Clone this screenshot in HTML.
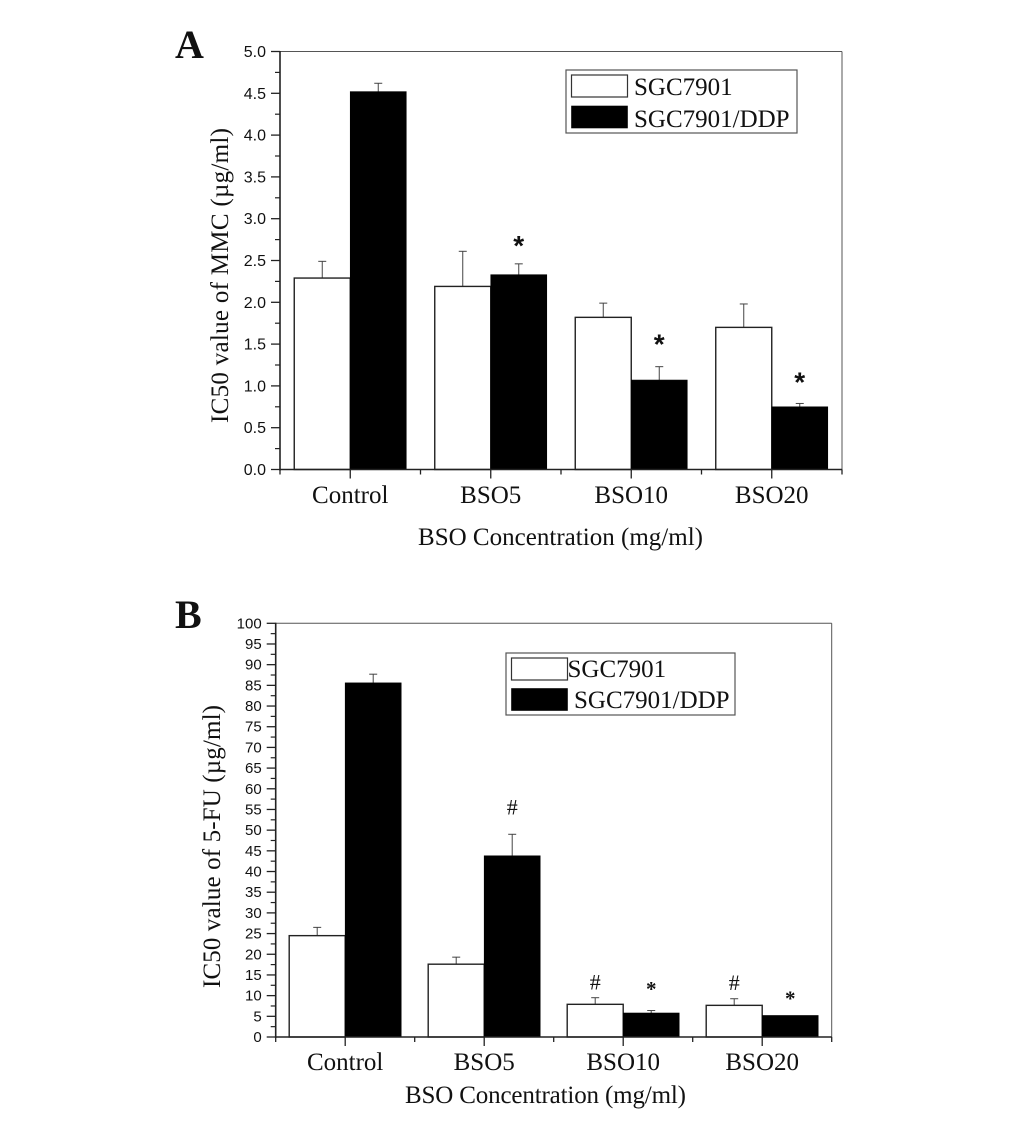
<!DOCTYPE html>
<html lang="en">
<head>
<meta charset="utf-8">
<title>IC50 values of MMC and 5-FU</title>
<style>
html,body{margin:0;padding:0;background:#fff;width:1033px;height:1121px;overflow:hidden}
svg{display:block}
text{fill:#111}
.serif{font-family:"Liberation Serif",serif}
.sans{font-family:"Liberation Sans",sans-serif}
</style>
</head>
<body>
<svg id="fig" xmlns="http://www.w3.org/2000/svg" width="1033" height="1121" viewBox="0 0 1033 1121">
<rect x="0" y="0" width="1033" height="1121" fill="#fff"/>
</svg>
<script>
// Shared categories and legend labels
const categories = ["Control", "BSO5", "BSO10", "BSO20"];
const seriesNames = ["SGC7901", "SGC7901/DDP"];

// Panel A: IC50 of MMC
const aYTicks = ["0.0","0.5","1.0","1.5","2.0","2.5","3.0","3.5","4.0","4.5","5.0"];
const aSgc = [2.29, 2.19, 1.82, 1.70];
const aSgcErr = [0.20, 0.42, 0.17, 0.28];
const aDdp = [4.52, 2.33, 1.07, 0.75];
const aDdpErr = [0.10, 0.13, 0.16, 0.04];
const aSgcMarks = ["", "", "", ""];
const aDdpMarks = ["", "*", "*", "*"];

// Panel B: IC50 of 5-FU
const bYTicks = ["0","5","10","15","20","25","30","35","40","45","50","55","60","65","70","75","80","85","90","95","100"];
const bSgc = [24.5, 17.6, 7.9, 7.65];
const bSgcErr = [2.0, 1.7, 1.6, 1.6];
const bDdp = [85.6, 43.8, 5.8, 5.2];
const bDdpErr = [2.1, 5.2, 0.6, 0];
const bSgcMarks = ["", "", "#", "#"];
const bDdpMarks = ["", "#", "*", "*"];

const NS = "http://www.w3.org/2000/svg";
const fig = document.getElementById("fig");

function el(tag, attrs, parent) {
  const e = document.createElementNS(NS, tag);
  for (const k in attrs) e.setAttribute(k, attrs[k]);
  (parent || fig).appendChild(e);
  return e;
}
function label(str, attrs, parent) {
  const t = el("text", attrs, parent);
  t.textContent = str;
  return t;
}

function drawPanel(p) {
  const g = el("g", {});
  
  

  const maxV = Number(p.yTicks[p.yTicks.length - 1]);
  const yAt = v => p.bottom - (v / maxV) * (p.bottom - p.top);
  const step = (p.right - p.left) / categories.length;
  const xAt = i => p.left + step * (i + 0.5);

  // Bars and error bars
  const drawSeries = (vals, errs, marks, side, name, gaps) => {
    vals.forEach((v, i) => {
      const cx = xAt(i);
      const x0 = side === 0 ? cx - p.barW : cx;
      const mid = x0 + p.barW / 2;
      const yTop = yAt(v);
      const yErr = yAt(v + errs[i]);
      if (errs[i] > 0) {
        const stem = el("line", {x1: mid, x2: mid, y1: yTop, y2: yErr, stroke: "#444", "stroke-width": 1}, g);
        
        
        const cap = el("line", {x1: mid - 4, x2: mid + 4, y1: yErr, y2: yErr, stroke: "#444", "stroke-width": 1}, g);
        
        
      }
      const bar = el("rect", {
        x: x0, y: yTop, width: p.barW, height: p.bottom - yTop,
        fill: side === 0 ? "#fff" : "#000",
        stroke: side === 0 ? "#222" : "#000",
        "stroke-width": side === 0 ? 1.4 : 0.6
      }, g);
      
      
      if (marks[i]) {
        const isStar = marks[i] === "*";
        const m = label(marks[i], {
          x: mid, y: yErr - gaps[i], "text-anchor": "middle",
          "font-size": isStar ? p.starSize : 22,
          "font-weight": isStar ? "bold" : "normal",
          class: isStar && p.starSans ? "sans" : "serif"
        }, g);
        
        
      }
    });
  };
  drawSeries(p.sgc, p.sgcErr, p.sgcMarks, 0, 'sgc7901', p.sgcGaps);
  drawSeries(p.ddp, p.ddpErr, p.ddpMarks, 1, 'sgc7901-ddp', p.ddpGaps);

  // Frame
  const frameTop = el("line", {x1: p.left, x2: p.right, y1: p.top, y2: p.top, stroke: "#555", "stroke-width": 1}, g);
  
  
  const frameRight = el("line", {x1: p.right, x2: p.right, y1: p.top, y2: p.bottom, stroke: "#555", "stroke-width": 1}, g);
  
  
  const yAxis = el("line", {x1: p.left, x2: p.left, y1: p.top - 0.5, y2: p.bottom + 1, stroke: "#222", "stroke-width": 1.6}, g);
  
  
  const xAxis = el("line", {x1: p.left, x2: p.right, y1: p.bottom, y2: p.bottom, stroke: "#222", "stroke-width": 1.6}, g);
  
  

  // Y ticks
  p.yTicks.forEach((t, i) => {
    const v = Number(t);
    const y = yAt(v);
    const major = el("line", {x1: p.left - 9, x2: p.left, y1: y, y2: y, stroke: "#222", "stroke-width": 1.3}, g);
    
    
    const tl = label(t, {x: p.left - 14, y: y + p.tickDy, "text-anchor": "end", "font-size": p.tickSize, class: "sans"}, g);
    
    
    if (i < p.yTicks.length - 1) {
      const yMid = yAt((v + Number(p.yTicks[i + 1])) / 2);
      const minor = el("line", {x1: p.left - 5, x2: p.left, y1: yMid, y2: yMid, stroke: "#222", "stroke-width": 1.2}, g);
      
      
    }
  });

  // X ticks
  for (let i = 0; i <= categories.length; i++) {
    const x = p.left + step * i;
    const minor = el("line", {x1: x, x2: x, y1: p.bottom, y2: p.bottom + 5, stroke: "#222", "stroke-width": 1.3}, g);
    
    
  }
  categories.forEach((c, i) => {
    const x = xAt(i);
    const major = el("line", {x1: x, x2: x, y1: p.bottom, y2: p.bottom + 9, stroke: "#222", "stroke-width": 1.3}, g);
    
    
    const tl = label(c, {x: x, y: p.catY, "text-anchor": "middle", "font-size": 25, class: "serif"}, g);
    
    
  });

  // Titles
  const xt = label("BSO Concentration (mg/ml)", {
    x: p.xTitleX, y: p.xTitleY, "font-size": 25, class: "serif",
    textLength: p.xTitleW, lengthAdjust: "spacing"
  }, g);
  
  
  const yt = label(p.yTitle, {
    x: 0, y: 0, "font-size": 25, class: "serif",
    textLength: p.yTitleW, lengthAdjust: "spacing",
    transform: "translate(" + p.yTitleX + " " + p.yTitleY + ") rotate(-90)"
  }, g);
  
  

  // Panel letter
  const letter = label(p.letter, {x: 175, y: p.letterY, "font-size": 40, "font-weight": "bold", class: "serif"}, g);
  
  

  // Legend
  const L = p.legend;
  const box = el("rect", {x: L.x, y: L.y, width: L.w, height: L.h, fill: "#fff", stroke: "#555", "stroke-width": 1.2}, g);
  
  
  const sw1 = el("rect", {x: L.swX, y: L.sw1Y, width: 56, height: 22, fill: "#fff", stroke: "#333", "stroke-width": 1.2}, g);
  
  
  const sw2 = el("rect", {x: L.swX, y: L.sw2Y, width: 56, height: 22, fill: "#000", stroke: "#000", "stroke-width": 0.6}, g);
  
  
  const lt1 = label(seriesNames[0], {x: L.t1X, y: L.t1Y, "font-size": 25, class: "serif"}, g);
  
  
  const lt2 = label(seriesNames[1], {x: L.t2X, y: L.t2Y, "font-size": 25, class: "serif"}, g);
  
  
}

drawPanel({
  id: "mmc", letter: "A", letterY: 58,
  left: 280, right: 842, top: 51.5, bottom: 469.5, barW: 56,
  yTicks: aYTicks, tickSize: 16, tickDy: 5.5,
  sgc: aSgc, sgcErr: aSgcErr, ddp: aDdp, ddpErr: aDdpErr,
  sgcMarks: aSgcMarks, ddpMarks: aDdpMarks,
  sgcGaps: [0, 0, 0, 0], ddpGaps: [0, 9, 13, 12],
  starSize: 28, starSans: true,
  catY: 503, xTitleX: 418, xTitleY: 545, xTitleW: 285,
  yTitle: "IC50 value of MMC (µg/ml)", yTitleX: 228, yTitleY: 423, yTitleW: 295,
  legend: {x: 566, y: 70, w: 231, h: 63, swX: 571.5, sw1Y: 75, sw2Y: 106, t1X: 634, t1Y: 95, t2X: 634, t2Y: 127}
});

drawPanel({
  id: "fu", letter: "B", letterY: 628,
  left: 275.7, right: 831.7, top: 623.3, bottom: 1037, barW: 56,
  yTicks: bYTicks, tickSize: 15, tickDy: 5,
  sgc: bSgc, sgcErr: bSgcErr, ddp: bDdp, ddpErr: bDdpErr,
  sgcMarks: bSgcMarks, ddpMarks: bDdpMarks,
  sgcGaps: [0, 0, 8, 8.5], ddpGaps: [0, 20, 14.7, 10],
  starSize: 21, starSans: false,
  catY: 1070, xTitleX: 405, xTitleY: 1103, xTitleW: 281,
  yTitle: "IC50 value of 5-FU (µg/ml)", yTitleX: 220, yTitleY: 988, yTitleW: 283,
  legend: {x: 506, y: 653, w: 229, h: 62, swX: 511.5, sw1Y: 658, sw2Y: 688.5, t1X: 567.5, t1Y: 677, t2X: 574, t2Y: 708}
});
</script>
</body>
</html>
